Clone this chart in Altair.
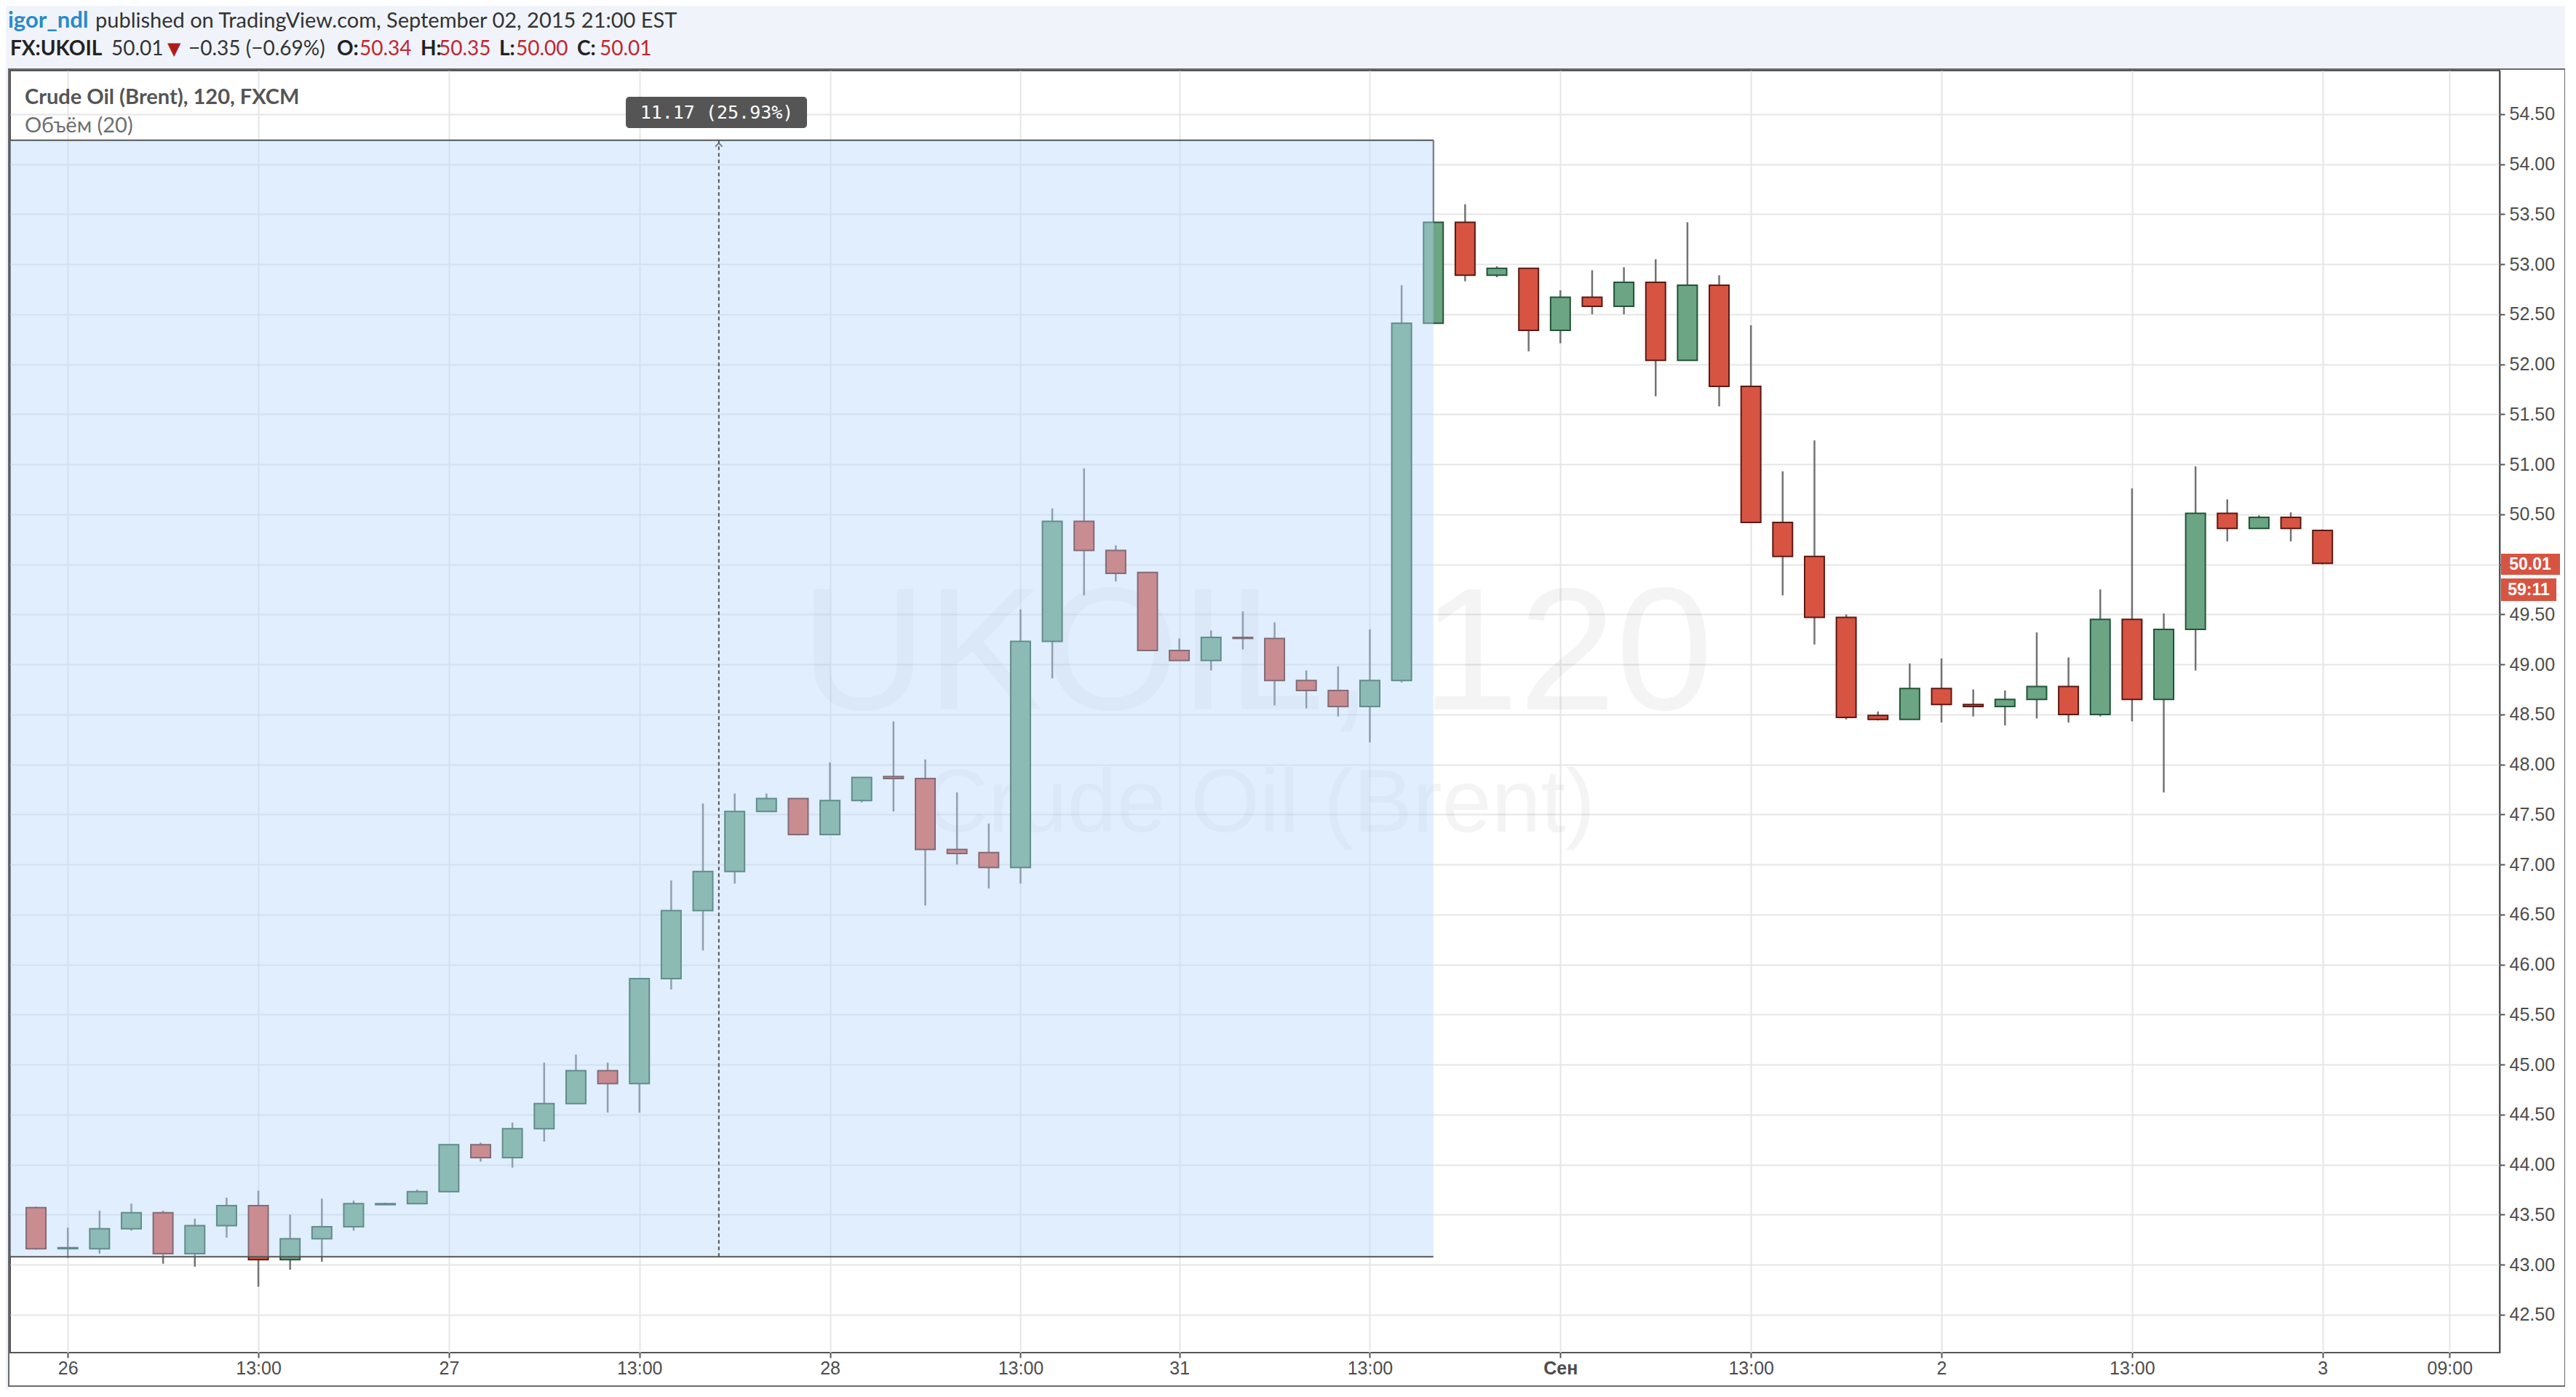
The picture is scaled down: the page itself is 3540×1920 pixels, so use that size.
import altair as alt
import pandas as pd

# ---------------- data (2-hour candles, FX:UKOIL) ----------------
bar_index = list(range(73))
opens = [43.57, 43.16, 43.16, 43.36, 43.52, 43.11, 43.39, 43.59, 43.05, 43.26,
         43.38, 43.60, 43.61, 43.73, 44.20, 44.07, 44.36, 44.61, 44.94, 44.81,
         45.86, 46.54, 46.93, 47.53, 47.66, 47.30, 47.64, 47.88, 47.86, 47.15,
         47.12, 46.97, 49.23, 50.43, 50.14, 49.92, 49.14, 49.04, 49.27, 49.26,
         48.84, 48.74, 48.58, 48.84, 52.41, 53.42, 52.89, 52.96, 52.34, 52.67,
         52.58, 52.82, 52.04, 52.79, 51.78, 50.42, 50.08, 49.47, 48.49, 48.45,
         48.76, 48.60, 48.58, 48.65, 48.78, 48.50, 49.45, 48.65, 49.35, 50.51,
         50.36, 50.47, 50.34]
highs = [43.58, 43.37, 43.54, 43.61, 43.54, 43.46, 43.67, 43.74, 43.50, 43.66,
         43.64, 43.62, 43.75, 44.20, 44.22, 44.42, 45.02, 45.10, 45.02, 45.86,
         46.84, 47.61, 47.71, 47.71, 47.66, 48.02, 47.87, 48.43, 48.05, 47.72,
         47.41, 49.55, 50.56, 50.96, 50.19, 49.92, 49.26, 49.34, 49.53, 49.42,
         48.94, 48.98, 49.35, 52.79, 54.24, 53.60, 52.98, 52.96, 52.74, 52.94,
         52.97, 53.05, 53.42, 52.89, 52.39, 50.93, 51.24, 49.50, 48.53, 49.01,
         49.06, 48.75, 48.74, 49.32, 49.07, 49.75, 50.76, 49.51, 50.98, 50.65,
         50.49, 50.52, 50.35]
lows = [43.15, 43.07, 43.11, 43.34, 43.01, 42.98, 43.27, 42.78, 42.95, 43.03,
        43.34, 43.60, 43.61, 43.73, 44.03, 43.97, 44.23, 44.61, 44.52, 44.52,
        45.75, 46.14, 46.81, 47.53, 47.29, 47.30, 47.62, 47.53, 46.59, 47.00,
        46.76, 46.81, 48.86, 49.69, 49.83, 49.14, 49.04, 48.94, 49.15, 48.59,
        48.56, 48.48, 48.22, 48.82, 52.41, 52.83, 52.87, 52.13, 52.21, 52.50,
        52.50, 51.68, 52.04, 51.58, 50.42, 49.69, 49.20, 48.45, 48.44, 48.45,
        48.42, 48.48, 48.39, 48.46, 48.42, 48.48, 48.43, 47.72, 48.94, 50.23,
        50.36, 50.23, 50.00]
closes = [43.16, 43.17, 43.36, 43.52, 43.11, 43.39, 43.59, 43.05, 43.26, 43.38,
          43.61, 43.61, 43.73, 44.20, 44.07, 44.36, 44.61, 44.94, 44.81, 45.86,
          46.54, 46.93, 47.53, 47.66, 47.30, 47.64, 47.87, 47.86, 47.15, 47.11,
          46.97, 49.23, 50.43, 50.14, 49.91, 49.14, 49.04, 49.27, 49.26, 48.84,
          48.74, 48.58, 48.84, 52.41, 53.42, 52.89, 52.96, 52.34, 52.67, 52.58,
          52.82, 52.04, 52.79, 51.78, 50.42, 50.08, 49.47, 48.47, 48.45, 48.76,
          48.60, 48.58, 48.65, 48.78, 48.50, 49.45, 48.65, 49.35, 50.51, 50.36,
          50.47, 50.36, 50.01]

tick_index = [1, 7, 13, 19, 25, 31, 36, 42, 48, 54, 60, 66, 72, 76]
tick_labels = ["26", "13:00", "27", "13:00", "28", "13:00", "31", "13:00",
               "Сен", "13:00", "2", "13:00", "3", "09:00"]
price_ticks = [42.5 + 0.5 * k for k in range(25)]

# price-range drawing (bars -1 .. 44, 43.08 .. 54.24)
range_start, range_end = [-1], [44]
range_low, range_high = [43.08], [54.24]
range_mid = [21.5]

df = pd.DataFrame({"i": bar_index, "o": opens, "h": highs, "l": lows, "c": closes})
df["dir"] = ["up" if c >= o else "down" for o, c in zip(opens, closes)]

W, H = 3421, 1762
xdom = [-0.70, 77.46]
ydom = [42.121, 54.936]

label_expr = "".join(f"datum.value == {v} ? '{l}' : " for v, l in zip(tick_index, tick_labels)) + "''"

xaxis = alt.Axis(values=tick_index, labelExpr=label_expr, title=None, grid=True,
                 gridColor="#e6e6e6", gridWidth=2, domain=False,
                 tickSize=7, tickColor="#555555", tickWidth=2,
                 labelFont="Liberation Sans", labelFontSize=25, labelColor="#4d4d4d",
                 labelPadding=2, labelFlush=False, labelOverlap=False,
                 labelFontWeight={"condition": {"test": "datum.value === 48", "value": "bold"},
                                  "value": "normal"})
yaxis = alt.Axis(values=price_ticks, format=".2f", orient="right", title=None, grid=True,
                 gridColor="#e6e6e6", gridWidth=2, domain=True, domainColor="#555555",
                 domainWidth=2, tickSize=7, tickColor="#555555", tickWidth=2,
                 labelFont="Liberation Sans", labelFontSize=25, labelColor="#4d4d4d",
                 labelPadding=6, labelOverlap=False, labelFlush=False)


def X(field):
    return alt.X(f"{field}:Q", scale=alt.Scale(domain=xdom, nice=False, zero=False), axis=xaxis)


def Y(field):
    return alt.Y(f"{field}:Q", scale=alt.Scale(domain=ydom, nice=False, zero=False), axis=yaxis)


one = pd.DataFrame({"k": [0]})


def txt(text, x, y, size, color, weight="normal", font="Lato", align="left", opacity=1.0):
    return alt.Chart(one).mark_text(text=text, align=align, baseline="middle", font=font,
                                    fontSize=size, fontWeight=weight, color=color,
                                    opacity=opacity).encode(x=alt.value(x), y=alt.value(y))


def box(x, x2, y, y2, fill, radius=0, stroke=None, fill_opacity=1.0):
    kw = dict(fill=fill, cornerRadius=radius, fillOpacity=fill_opacity)
    if stroke:
        kw.update(stroke=stroke, strokeWidth=2)
    return alt.Chart(one).mark_rect(**kw).encode(
        x=alt.value(x), x2=alt.value(x2), y=alt.value(y), y2=alt.value(y2))


# page band (header area) and chart frame
header_band = box(-6, 3511, -89, -3, "#f0f3fa")
left_band = box(-6, -2, -89, 1812, "#f0f3fa")
frame = box(-2, 3511, -2, 1808, "#ffffff", stroke="#6b6b6b", fill_opacity=0.0)

# watermark
wm1 = txt("UKOIL, 120", 1713, 806, 240, "#000000", font="Liberation Sans", align="center", opacity=0.04)
wm2 = txt("Crude Oil (Brent)", 1717, 1009, 122, "#000000", font="Liberation Sans", align="center", opacity=0.04)

wicks = alt.Chart(df).mark_rule(color="#737375", strokeWidth=2.5).encode(
    x=X("i"), y=Y("l"), y2="h")
bodies = alt.Chart(df).mark_bar(size=27, strokeWidth=2).encode(
    x=X("i"), y=Y("o"), y2="c",
    fill=alt.Fill("dir:N", scale=alt.Scale(domain=["up", "down"], range=["#6ba583", "#d75442"]), legend=None),
    stroke=alt.Stroke("dir:N", scale=alt.Scale(domain=["up", "down"], range=["#225437", "#5b1a13"]), legend=None))

rng = pd.DataFrame({"i": range_start, "i2": range_end, "lo": range_low, "hi": range_high, "m": range_mid})
shade = alt.Chart(rng).mark_rect(fill="rgb(182,215,250)", fillOpacity=0.43, clip=True).encode(
    x=X("i"), x2="i2", y=Y("lo"), y2="hi")
edges_df = pd.DataFrame({"i": range_start * 2, "i2": range_end * 2, "p": range_low + range_high})
edges = alt.Chart(edges_df).mark_rule(color="#555555", strokeWidth=2, clip=True).encode(
    x=X("i"), x2="i2", y=Y("p"))
midline = alt.Chart(rng).mark_rule(color="#555555", strokeWidth=2, strokeDash=[5, 4]).encode(
    x=X("m"), y=Y("lo"), y2="hi")
arrow = alt.Chart(rng).mark_point(shape="M -1 1 L 0 0 L 1 1", filled=False, size=90,
                                  color="#555555", strokeWidth=2, yOffset=4).encode(
    x=X("m"), y=Y("hi"))

range_box = box(846, 1095, 36, 79, "#555555", radius=5)
range_text = txt("11.17 (25.93%)", 971, 58, 25, "#ffffff", font="DejaVu Sans Mono", align="center")

# current price labels on the price axis
p_box = box(3423, 3504, 664, 693, "#d75442")
p_text = txt("50.01", 3463, 679, 23, "#ffffff", weight="bold", font="Liberation Sans", align="center")
t_box = box(3423, 3499, 698, 729, "#d75442")
t_text = txt("59:11", 3461, 714, 23, "#ffffff", weight="bold", font="Liberation Sans", align="center")

# titles inside chart
title1 = txt("Crude Oil (Brent), 120, FXCM", 20, 37, 29, "#555555", weight="bold")
title2 = txt("Объём (20)", 20, 76, 29, "#6f6f6f")

# header
red = "#c0272d"
dark = "#333333"
y1, y2 = -68, -29
hdr = [
    txt("igor_ndl", -3, y1, 31, "#2a8ac8", weight="bold"),
    txt("published on TradingView.com, September 02, 2015 21:00 EST", 117, y1, 29, dark),
    txt("FX:UKOIL", 0, y2, 28, "#222222", weight="bold"),
    txt("50.01", 139, y2, 28, dark),
    txt("▼", 216, y2, 24, "#b01c1c", font="DejaVu Sans"),
    txt("−0.35 (−0.69%)", 245, y2, 28, dark),
    txt("O:", 449, y2, 28, "#222222", weight="bold"),
    txt("50.34", 480, y2, 28, red),
    txt("H:", 564, y2, 28, "#222222", weight="bold"),
    txt("50.35", 589, y2, 28, red),
    txt("L:", 672, y2, 28, "#222222", weight="bold"),
    txt("50.00", 695, y2, 28, red),
    txt("C:", 779, y2, 28, "#222222", weight="bold"),
    txt("50.01", 810, y2, 28, red),
]

chart = alt.layer(
    header_band, left_band, frame, wm1, wm2, wicks, bodies, shade, edges, midline, arrow,
    range_box, range_text, p_box, p_text, t_box, t_text, title1, title2, *hdr
).properties(
    width=W, height=H,
    autosize=alt.AutoSizeParams(type="none"),
    padding={"left": 6, "top": 89, "right": 90, "bottom": 50},
    background="#ffffff",
).configure_view(stroke="#555555", strokeWidth=2, fill="#ffffff")

chart.save("out.html", embed_options={"renderer": "svg", "actions": False})
